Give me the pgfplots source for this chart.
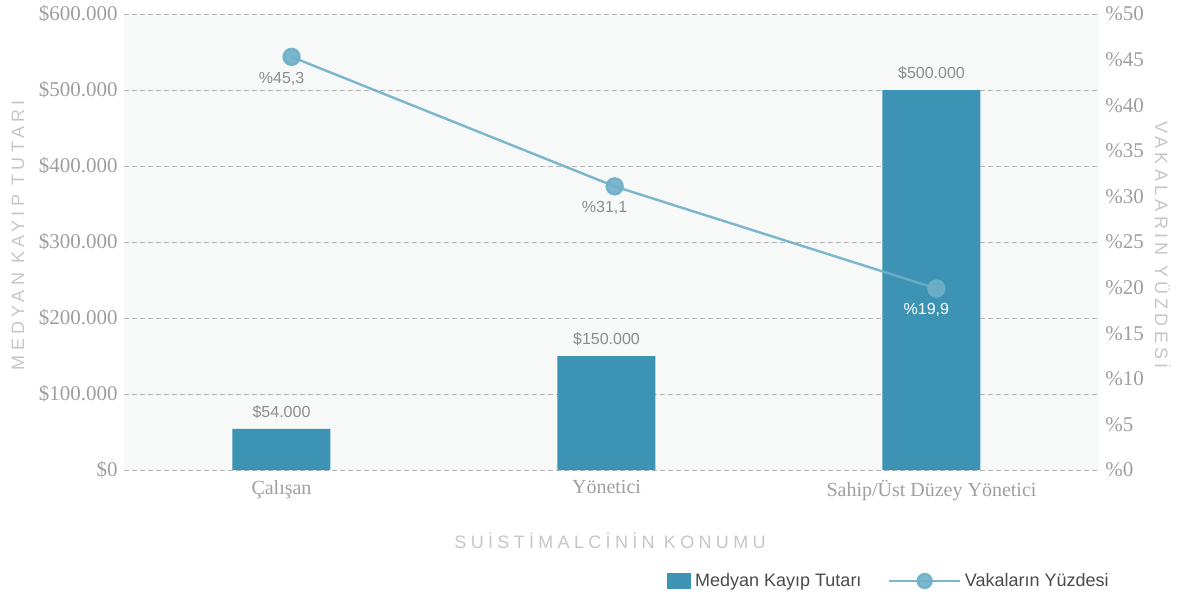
\documentclass[border=0pt]{standalone}
\usepackage{fontspec}
\setmainfont{Liberation Serif}
\newfontfamily\sans{Liberation Sans}
\newfontfamily\spaced[LetterSpace=24]{Liberation Sans}
\usepackage{pgfplots}
\pgfplotsset{compat=1.18}

\definecolor{barcol}{HTML}{3D93B3}
\definecolor{linecol}{HTML}{6EAFC9}
\definecolor{bgcol}{HTML}{F7F9F9}
\definecolor{gridcol}{HTML}{B4B4B4}
\definecolor{tickcol}{HTML}{9E9E9E}
\definecolor{lblcol}{HTML}{8C8C8C}
\definecolor{axlabcol}{HTML}{C6C6CA}
\definecolor{legcol}{HTML}{4A4A4A}

\begin{document}
\begin{tikzpicture}
\pgfplotsset{
  base/.style={
    width=487.5pt, height=228pt, scale only axis,
    xmin=-0.4846, xmax=2.5154,
    axis line style={draw=none},
    major tick length=0pt,
    ticklabel style={inner sep=0pt, font=\fontsize{10.5}{12}\selectfont, text=tickcol},
    clip=false,
  }
}
% bars: median loss
\begin{axis}[base,
  axis background/.style={fill=bgcol},
  ymin=0, ymax=600000,
  ytick={0,100000,200000,300000,400000,500000,600000},
  yticklabels={\$0,\$100.000,\$200.000,\$300.000,\$400.000,\$500.000,\$600.000},
  scaled y ticks=false,
  yticklabel style={xshift=-3pt},
  ymajorgrids,
  grid style={gridcol, line width=0.5pt, dash pattern=on 2.5pt off 1.5pt},
  xtick={0,1,2},
  xticklabels={Çalışan, Yönetici, Sahip/Üst Düzey Yönetici},
  xticklabel style={yshift=-5pt, font=\fontsize{10}{12}\selectfont},
  ylabel={MEDYAN KAYIP TUTARI},
  ylabel style={at={(axis description cs:-0.1087,0.515)}, anchor=center, rotate=0,
    font=\spaced\fontsize{9}{11}\selectfont, text=axlabcol},
  xlabel={SUİSTİMALCİNİN KONUMU},
  xlabel style={at={(axis description cs:0.4985,-0.1557)}, anchor=center,
    font=\spaced\fontsize{9}{11}\selectfont, text=axlabcol},
]
\addplot[ybar, bar width=49pt, bar shift=0pt, fill=barcol, draw=none,
  point meta=explicit symbolic,
  nodes near coords,
  every node near coord/.append style={anchor=south, inner sep=0pt, yshift=5pt,
    font=\sans\fontsize{8}{9}\selectfont, text=lblcol},
] coordinates {
  (0,54000) [\$54.000]
  (1,150000) [\$150.000]
  (2,500000) [\$500.000]
};
\coordinate (sw) at (rel axis cs:0,0);
\end{axis}
% line: share of cases
\begin{axis}[base,
  ymin=0, ymax=50,
  ytick={0,5,...,50},
  yticklabels={\%0,\%5,\%10,\%15,\%20,\%25,\%30,\%35,\%40,\%45,\%50},
  yticklabel pos=right,
  yticklabel style={xshift=3pt},
  xtick=\empty,
  ylabel={VAKALARIN YÜZDESİ},
  ylabel style={at={(axis description cs:1.0656,0.493)}, anchor=center, rotate=180,
    font=\spaced\fontsize{9}{11}\selectfont, text=axlabcol},
  legend columns=2,
  legend style={draw=none, fill=none, inner sep=0pt,
    at={(axis description cs:1.0144,-0.2434)}, anchor=east,
    nodes={inner sep=2pt, text=legcol, font=\sans\fontsize{9}{11}\selectfont},
    /tikz/every even column/.append style={column sep=11pt}},
]
\addlegendimage{legend image code/.code={\fill[barcol] (0pt,-3.75pt) rectangle (11.5pt,3.75pt);}}
\addlegendentry{Medyan Kayıp Tutarı}
\addplot[linecol, line width=1.2pt, opacity=0.9,
  mark=*, mark size=4pt, mark options={fill=linecol, draw=none},
  point meta=explicit symbolic,
  nodes near coords,
  every node near coord/.append style={anchor=north, inner sep=0pt, yshift=-7pt, xshift=-5pt,
    font=\sans\fontsize{8}{9}\selectfont, text=lblcol, opacity=1},
  legend image code/.code={\draw[linecol, line width=1.2pt] (0pt,0pt) -- (35.5pt,0pt);
    \fill[linecol] (18pt,0pt) circle (3.5pt);},
] coordinates {
  (0.031,45.3) [\%45,3]
  (1.025,31.1) [\%31,1]
  (2.015,19.9) [\textcolor{white}{\%19,9}]
};
\addlegendentry{Vakaların Yüzdesi}
\end{axis}
\pgfresetboundingbox
\path ([shift={(-62pt,-65pt)}]sw) rectangle ([shift={(530.5pt,235pt)}]sw);
\end{tikzpicture}
\end{document}
